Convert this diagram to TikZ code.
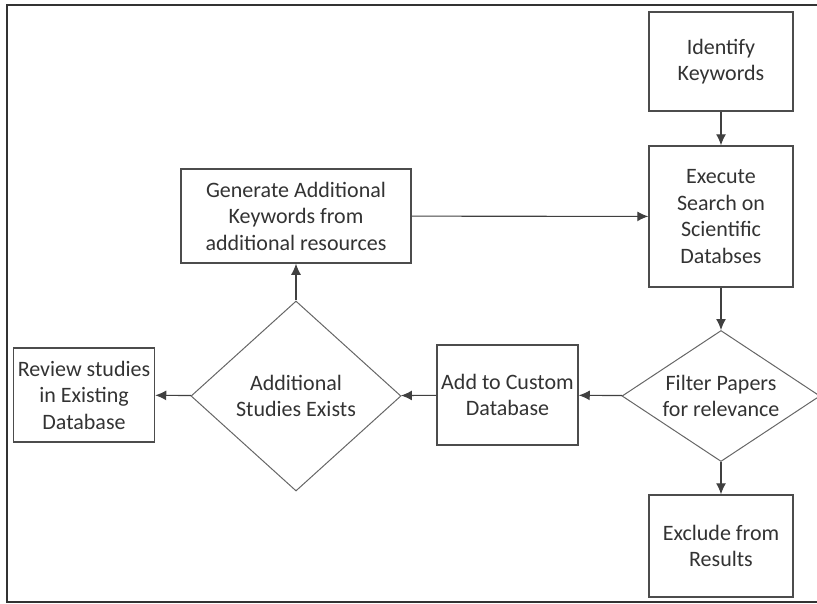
\documentclass[tikz,border=0pt]{standalone}
\usepackage{fontspec}
\setmainfont{Carlito}
\usetikzlibrary{shapes.geometric,arrows.meta}
\tikzset{
	procbox/.style={draw=black!70,line width=1.5pt,fill=white,align=center,inner sep=0pt},
	decbox/.style={draw=black!60,line width=1pt,shape=diamond,align=center,inner sep=0pt},
	flowarrow/.style={draw=black!75,line width=1.1pt,-{Latex[length=11pt,width=10pt]}}
}
\begin{document}
\begin{tikzpicture}[x=1pt,y=-1pt,font=\fontsize{22}{26.5}\selectfont,text=black!80]
	\useasboundingbox (0,0) rectangle (817,603);
	% cadre
	\draw[black!80,line width=2pt] (817,5) -- (7,5) -- (7,602) -- (817,602);
	%
	% colonne de droite
	\node[procbox,minimum width=144pt,minimum height=99pt] (ident) at (721,61.5) {Identify\\Keywords};
	\node[procbox,minimum width=144pt,minimum height=141pt] (exec) at (721,216.5) {Execute\\Search on\\Scientific\\Databses};
	\node[decbox,aspect=1.5,minimum width=198pt,minimum height=131pt] (filter) at (721,396) {Filter Papers\\for relevance};
	\node[procbox,minimum width=144pt,minimum height=102pt] (excl) at (721,546) {Exclude from\\Results};
	%
	% ligne du milieu
	\node[procbox,minimum width=141pt,minimum height=100pt] (addc) at (507.5,395) {Add to Custom\\Database};
	\node[decbox,aspect=1.1,minimum width=210pt,minimum height=190pt] (addl) at (296,396) {Additional\\Studies Exists};
	\node[procbox,minimum width=141pt,minimum height=94pt] (review) at (84,395) {Review studies\\in Existing\\Database};
	\node[procbox,minimum width=230pt,minimum height=94pt] (gen) at (296,216) {Generate Additional\\Keywords from\\additional resources};
	%
	% fleches
	\draw[flowarrow] (ident) -- (exec);
	\draw[flowarrow] (exec) -- (filter);
	\draw[flowarrow] (filter) -- (excl);
	\draw[flowarrow] (filter) -- (addc);
	\draw[flowarrow] (addc) -- (addl);
	\draw[flowarrow] (addl) -- (review);
	\draw[flowarrow] (addl) -- (gen);
	\draw[flowarrow] (gen) -- (exec);
\end{tikzpicture}
\end{document}
